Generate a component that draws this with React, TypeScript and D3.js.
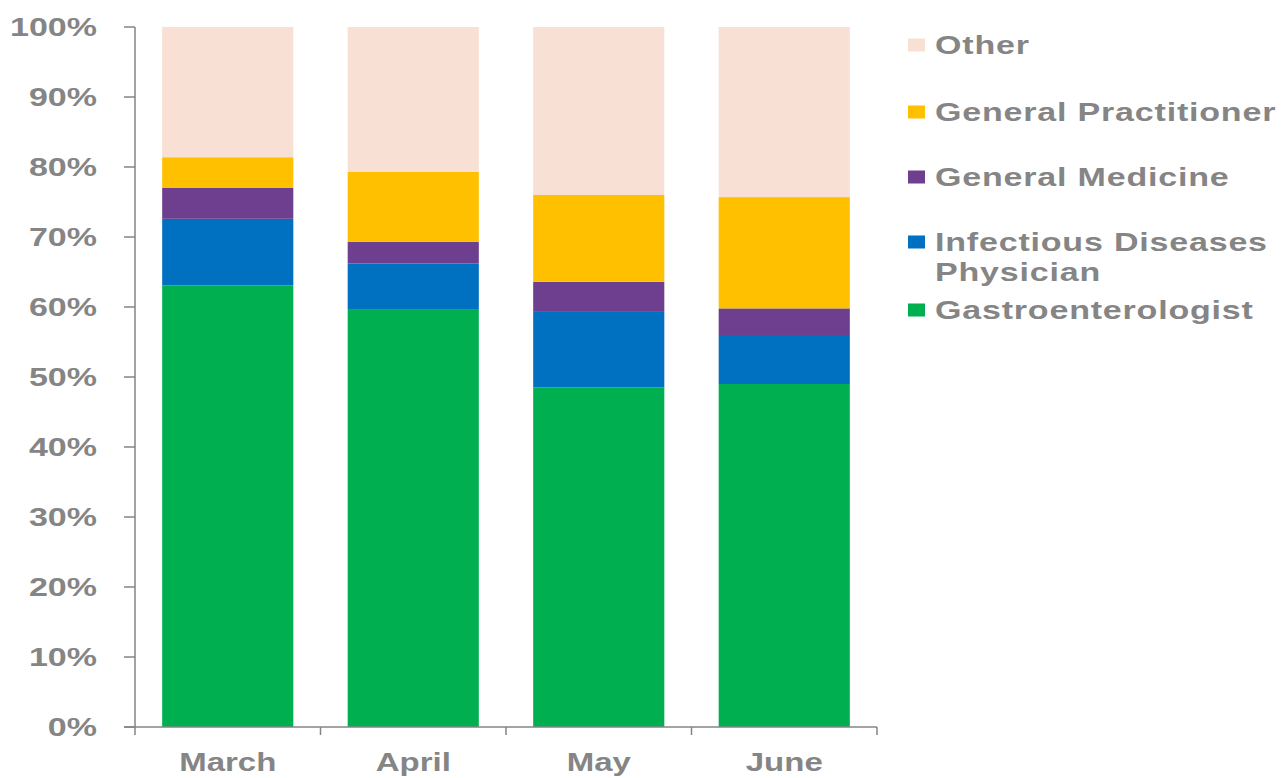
import React from "react";
import * as d3 from "d3";

const months = ["March", "April", "May", "June"];
const seriesNames = ["Gastroenterologist", "Infectious Diseases Physician", "General Medicine", "General Practitioner", "Other"];
const gastro = [63.1, 59.6, 48.5, 49.0];
const infectious = [9.5, 6.6, 10.8, 7.0];
const genMed = [4.4, 3.1, 4.3, 3.8];
const genPract = [4.4, 10.0, 12.4, 15.9];
const other = [18.6, 20.7, 24.0, 24.3];
const yTicks = [0, 10, 20, 30, 40, 50, 60, 70, 80, 90, 100];
const colors = ["#00B050", "#0070C0", "#6E3F8E", "#FFC000", "#F9E0D4"];

const legendItems = [
  { key: "Other", lines: ["Other"], color: 4, y: 45 },
  { key: "General Practitioner", lines: ["General Practitioner"], color: 3, y: 112 },
  { key: "General Medicine", lines: ["General Medicine"], color: 2, y: 177 },
  { key: "Infectious Diseases Physician", lines: ["Infectious Diseases", "Physician"], color: 1, y: 242 },
  { key: "Gastroenterologist", lines: ["Gastroenterologist"], color: 0, y: 310 },
];

const SX = 1.36;
const FONT = "'Liberation Sans', Arial, sans-serif";
const GRAY = "#858585";

export default function App() {
  const W = 1285, H = 778;
  const x = d3.scaleBand<string>().domain(months).range([135, 877]).paddingInner(0.293).paddingOuter(0.1465);
  const y = d3.scaleLinear().domain([0, 100]).range([727, 27]);

  const table = months.map((m, i) => ({
    month: m,
    [seriesNames[0]]: gastro[i],
    [seriesNames[1]]: infectious[i],
    [seriesNames[2]]: genMed[i],
    [seriesNames[3]]: genPract[i],
    [seriesNames[4]]: other[i],
  }));
  const stacked = d3.stack<any>().keys(seriesNames)(table);

  const step = x.step();
  const tickXs = months.map((m) => (x(m) as number) - (step * 0.293) / 2);
  tickXs.push(877);

  return (
    <svg width={W} height={H} style={{ position: "absolute", left: 0, top: 0, background: "#fff" }}>
      {stacked.map((s, si) => (
        <g key={s.key} fill={colors[si]}>
          {s.map((d, i) => (
            <rect key={i} x={x(months[i])} width={x.bandwidth()} y={y(d[1])} height={y(d[0]) - y(d[1])} />
          ))}
        </g>
      ))}
      {/* Y axis */}
      <line x1={135} x2={135} y1={y(100)} y2={y(0)} stroke={GRAY} strokeWidth={1.5} />
      {yTicks.map((t) => (
        <g key={t}>
          <line x1={124} x2={135} y1={y(t)} y2={y(t)} stroke={GRAY} strokeWidth={1.5} />
          <g transform={`translate(97,${y(t)}) scale(${SX},1)`}>
            <text textAnchor="end" dy="0.36em" fontFamily={FONT} fontWeight="bold" fontSize={25} fill={GRAY}>
              {t}%
            </text>
          </g>
        </g>
      ))}
      {/* X axis */}
      <line x1={124} x2={877} y1={y(0)} y2={y(0)} stroke={GRAY} strokeWidth={1.5} />
      {tickXs.map((tx, i) => (
        <line key={i} x1={tx} x2={tx} y1={y(0)} y2={735} stroke={GRAY} strokeWidth={1.5} />
      ))}
      {months.map((m) => (
        <g key={m} transform={`translate(${(x(m) as number) + x.bandwidth() / 2},762) scale(1.32,1)`}>
          <text textAnchor="middle" dy="0.36em" fontFamily={FONT} fontWeight="bold" fontSize={25} fill={GRAY}>
            {m}
          </text>
        </g>
      ))}
      {/* Legend */}
      {legendItems.map((it) => (
        <g key={it.key}>
          <rect x={908} y={it.y - 6.5} width={17} height={13} fill={colors[it.color]} />
          {it.lines.map((ln, li) => (
            <g key={li} transform={`translate(935,${it.y + li * 30}) scale(${SX},1)`}>
              <text dy="0.36em" fontFamily={FONT} fontWeight="bold" fontSize={25} letterSpacing={0.6} fill={GRAY}>
                {ln}
              </text>
            </g>
          ))}
        </g>
      ))}
    </svg>
  );
}
